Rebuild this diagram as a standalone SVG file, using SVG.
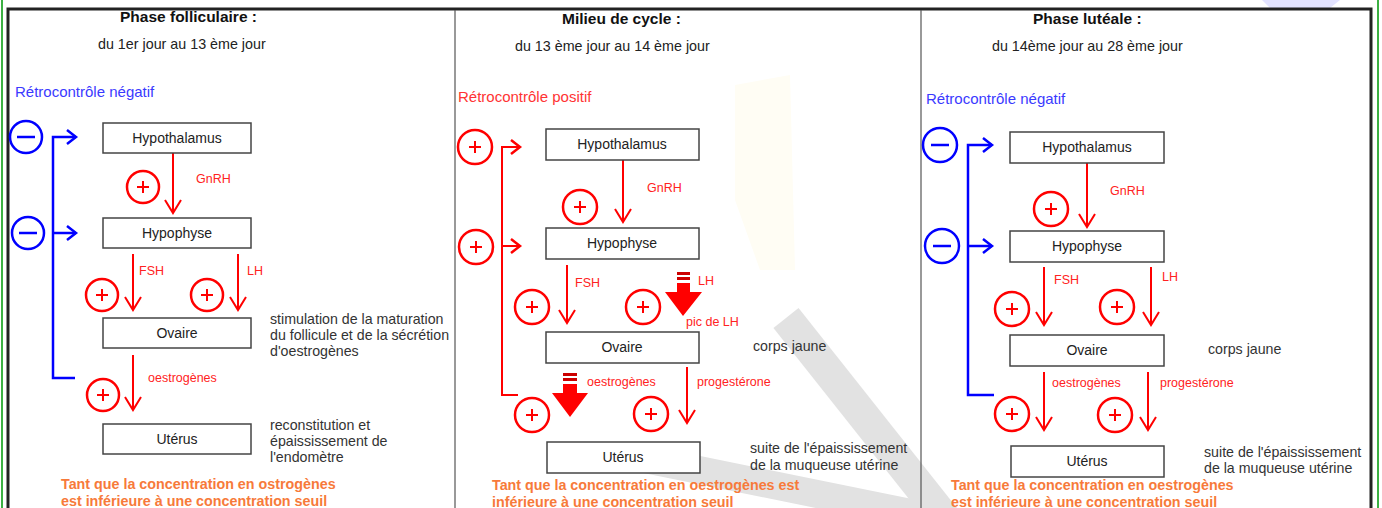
<svg xmlns="http://www.w3.org/2000/svg" width="1382" height="508" viewBox="0 0 1382 508">
<defs>
<style>
text{font-family:"Liberation Sans",Arial,sans-serif;}
.ttl{font-size:15.5px;font-weight:bold;fill:#111;}
.sub{font-size:14.3px;fill:#222;}
.box{fill:#fff;stroke:#444;stroke-width:1.5;}
.bt{font-size:14px;fill:#222;text-anchor:middle;}
.desc{font-size:14.2px;fill:#333;}
.lab{font-size:12.5px;fill:#f22;}
.org{font-size:14.3px;font-weight:bold;fill:#f77a3a;}
.rl{stroke:#f00;stroke-width:2;fill:none;}
.bl{stroke:#00f;stroke-width:2.5;fill:none;}
.pc{stroke:#f00;stroke-width:2.5;fill:#fff;}
.mc{stroke:#00f;stroke-width:2.5;fill:#fff;}
.sg{stroke:#f00;stroke-width:2;}
.sgb{stroke:#00f;stroke-width:2.5;}
.blk{fill:#f00;}
.bar{fill:#c00;}
</style>
<marker id="ar" markerUnits="userSpaceOnUse" markerWidth="20" markerHeight="20" viewBox="-10 -14 20 16" refX="0" refY="0" orient="0">
<path d="M-8,-13 L0,0 L8,-13" fill="none" stroke="#f00" stroke-width="2"/>
</marker>
<marker id="ab" markerUnits="userSpaceOnUse" markerWidth="20" markerHeight="20" viewBox="-14 -10 16 20" refX="0" refY="0" orient="0">
<path d="M-9,-7 L0,0 L-9,7" fill="none" stroke="#00f" stroke-width="2.5"/>
</marker>
<marker id="arr" markerUnits="userSpaceOnUse" markerWidth="20" markerHeight="20" viewBox="-14 -10 16 20" refX="0" refY="0" orient="0">
<path d="M-9,-7 L0,0 L-9,7" fill="none" stroke="#f00" stroke-width="2.5"/>
</marker>
</defs>
<rect width="1382" height="508" fill="#fff"/>
<g id="background">
<polygon points="1262,0 1340,0 1330,8 1270,8" fill="#dcdcff" opacity="0.8"/>
<polygon points="735,85 790,75 795,270 760,270 735,200" fill="#fffdf4"/>
<path d="M786,318 L950,525" stroke="#e2e2e2" stroke-width="32" fill="none"/>
<path d="M640,458 L955,522" stroke="#e2e2e2" stroke-width="28" fill="none"/>
<line x1="2" y1="0" x2="2" y2="508" stroke="#3cb043" stroke-width="2"/>
<line x1="1378" y1="0" x2="1378" y2="508" stroke="#3cb043" stroke-width="2"/>
<path d="M8,512 L8,9 L1371,9 L1371,512" fill="none" stroke="#222" stroke-width="3"/>
<line x1="455" y1="10" x2="455" y2="508" stroke="#555" stroke-width="1.2"/>
<line x1="921" y1="10" x2="921" y2="508" stroke="#555" stroke-width="1.2"/>
</g>

<g id="col1-header">
<text class="ttl" x="120" y="22">Phase folliculaire :</text>
<text class="sub" x="98" y="49">du 1er  jour au 13 ème jour</text>
<text x="15" y="97" font-size="15" fill="#3a3aff">Rétrocontrôle négatif</text>
</g>
<g id="col2-header">
<text class="ttl" x="562" y="24">Milieu de cycle :</text>
<text class="sub" x="515" y="51">du 13 ème jour au 14 ème jour</text>
<text x="458" y="102" font-size="15" fill="#f33">Rétrocontrôle positif</text>
</g>
<g id="col3-header">
<text class="ttl" x="1033" y="24">Phase lutéale :</text>
<text class="sub" x="992" y="51">du 14ème jour au 28 ème jour</text>
<text x="926" y="104" font-size="15" fill="#3a3aff">Rétrocontrôle négatif</text>
</g>

<g id="connectors">
<path class="bl" d="M75,378 L53,378 L53,137 L76,137" marker-end="url(#ab)"/>
<line class="bl" x1="53" y1="233" x2="76" y2="233" marker-end="url(#ab)"/>
<line class="rl" x1="173" y1="153" x2="173" y2="213" marker-end="url(#ar)"/>
<line class="rl" x1="133" y1="254" x2="133" y2="310" marker-end="url(#ar)"/>
<line class="rl" x1="238" y1="254" x2="238" y2="310" marker-end="url(#ar)"/>
<line class="rl" x1="133" y1="355" x2="133" y2="410" marker-end="url(#ar)"/>
<path class="rl" stroke-width="2.5" d="M518,395 L502,395 L502,147 L520,147" marker-end="url(#arr)"/>
<line class="rl" stroke-width="2.5" x1="502" y1="246" x2="520" y2="246" marker-end="url(#arr)"/>
<line class="rl" x1="623" y1="160" x2="623" y2="222" marker-end="url(#ar)"/>
<line class="rl" x1="567" y1="265" x2="567" y2="323" marker-end="url(#ar)"/>
<rect class="bar" x="677" y="272" width="13" height="3"/>
<rect class="bar" x="677" y="277" width="13" height="3"/>
<polygon class="blk" points="677,283 690,283 690,292 702,292 683,316 665,292 677,292"/>
<rect class="bar" x="563" y="373" width="14" height="3"/>
<rect class="bar" x="563" y="378" width="14" height="3"/>
<polygon class="blk" points="563,384 577,384 577,393 588,393 570,417 552,393 563,393"/>
<line class="rl" x1="687" y1="367" x2="687" y2="423" marker-end="url(#ar)"/>
<path class="bl" d="M994,395 L968,395 L968,145 L992,145" marker-end="url(#ab)"/>
<line class="bl" x1="968" y1="246" x2="992" y2="246" marker-end="url(#ab)"/>
<line class="rl" x1="1087" y1="163" x2="1087" y2="227" marker-end="url(#ar)"/>
<line class="rl" x1="1044" y1="267" x2="1044" y2="325" marker-end="url(#ar)"/>
<line class="rl" x1="1151" y1="267" x2="1151" y2="325" marker-end="url(#ar)"/>
<line class="rl" x1="1044" y1="372" x2="1044" y2="430" marker-end="url(#ar)"/>
<line class="rl" x1="1148" y1="372" x2="1148" y2="430" marker-end="url(#ar)"/>
</g>

<g id="labels">
<text class="lab" x="196" y="183">GnRH</text>
<text class="lab" x="139" y="275">FSH</text>
<text class="lab" x="247" y="275">LH</text>
<text class="lab" x="148" y="382">oestrogènes</text>
<text class="lab" x="647" y="192">GnRH</text>
<text class="lab" x="575" y="287">FSH</text>
<text class="lab" x="698" y="285">LH</text>
<text class="lab" x="686" y="326">pic de LH</text>
<text class="lab" x="587" y="386">oestrogènes</text>
<text class="lab" x="697" y="386">progestérone</text>
<text class="lab" x="1110" y="195">GnRH</text>
<text class="lab" x="1054" y="284">FSH</text>
<text class="lab" x="1162" y="281">LH</text>
<text class="lab" x="1052" y="387">oestrogènes</text>
<text class="lab" x="1160" y="387">progestérone</text>
</g>

<g id="signs">
<g id="c1-minus1"><circle class="mc" cx="26" cy="137" r="16"/><line class="sgb" x1="17" y1="137" x2="35" y2="137"/></g>
<g id="c1-minus2"><circle class="mc" cx="28" cy="233" r="16"/><line class="sgb" x1="19" y1="233" x2="37" y2="233"/></g>
<g id="c1-p1"><circle class="pc" cx="143" cy="187" r="16"/><path class="sg" d="M137,187 h12 M143,181 v12"/></g>
<g id="c1-p2"><circle class="pc" cx="102" cy="295" r="16"/><path class="sg" d="M96,295 h12 M102,289 v12"/></g>
<g id="c1-p3"><circle class="pc" cx="207" cy="295" r="16"/><path class="sg" d="M201,295 h12 M207,289 v12"/></g>
<g id="c1-p4"><circle class="pc" cx="103" cy="395" r="16"/><path class="sg" d="M97,395 h12 M103,389 v12"/></g>
<g id="c2-p0"><circle class="pc" cx="475" cy="147" r="17"/><path class="sg" d="M469,147 h12 M475,141 v12"/></g>
<g id="c2-p00"><circle class="pc" cx="476" cy="247" r="17"/><path class="sg" d="M470,247 h12 M476,241 v12"/></g>
<g id="c2-p1"><circle class="pc" cx="580" cy="207" r="17"/><path class="sg" d="M574,207 h12 M580,201 v12"/></g>
<g id="c2-p2"><circle class="pc" cx="532" cy="307" r="17"/><path class="sg" d="M526,307 h12 M532,301 v12"/></g>
<g id="c2-p3"><circle class="pc" cx="643" cy="307" r="17"/><path class="sg" d="M637,307 h12 M643,301 v12"/></g>
<g id="c2-p4"><circle class="pc" cx="532" cy="415" r="17"/><path class="sg" d="M526,415 h12 M532,409 v12"/></g>
<g id="c2-p5"><circle class="pc" cx="651" cy="414" r="17"/><path class="sg" d="M645,414 h12 M651,408 v12"/></g>
<g id="c3-minus1"><circle class="mc" cx="940" cy="145" r="17"/><line class="sgb" x1="931" y1="145" x2="949" y2="145"/></g>
<g id="c3-minus2"><circle class="mc" cx="942" cy="246" r="17"/><line class="sgb" x1="933" y1="246" x2="951" y2="246"/></g>
<g id="c3-p1"><circle class="pc" cx="1051" cy="209" r="17"/><path class="sg" d="M1045,209 h12 M1051,203 v12"/></g>
<g id="c3-p2"><circle class="pc" cx="1012" cy="309" r="17"/><path class="sg" d="M1006,309 h12 M1012,303 v12"/></g>
<g id="c3-p3"><circle class="pc" cx="1117" cy="307" r="17"/><path class="sg" d="M1111,307 h12 M1117,301 v12"/></g>
<g id="c3-p4"><circle class="pc" cx="1012" cy="414" r="17"/><path class="sg" d="M1006,414 h12 M1012,408 v12"/></g>
<g id="c3-p5"><circle class="pc" cx="1115" cy="415" r="17"/><path class="sg" d="M1109,415 h12 M1115,409 v12"/></g>
</g>

<g id="c1-hypothalamus"><rect class="box" x="103" y="123" width="148" height="30"/><text class="bt" x="177" y="143">Hypothalamus</text></g>
<g id="c1-hypophyse"><rect class="box" x="103" y="218" width="148" height="30"/><text class="bt" x="177" y="238">Hypophyse</text></g>
<g id="c1-ovaire"><rect class="box" x="103" y="318" width="148" height="30"/><text class="bt" x="177" y="338">Ovaire</text></g>
<g id="c1-uterus"><rect class="box" x="103" y="424" width="148" height="30"/><text class="bt" x="177" y="444">Utérus</text></g>
<g id="c2-hypothalamus"><rect class="box" x="546" y="129" width="153" height="31"/><text class="bt" x="622" y="149">Hypothalamus</text></g>
<g id="c2-hypophyse"><rect class="box" x="546" y="228" width="153" height="31"/><text class="bt" x="622" y="248">Hypophyse</text></g>
<g id="c2-ovaire"><rect class="box" x="546" y="332" width="153" height="31"/><text class="bt" x="622" y="352">Ovaire</text></g>
<g id="c2-uterus"><rect class="box" x="547" y="442" width="153" height="31"/><text class="bt" x="623" y="462">Utérus</text></g>
<g id="c3-hypothalamus"><rect class="box" x="1010" y="132" width="154" height="31"/><text class="bt" x="1087" y="152">Hypothalamus</text></g>
<g id="c3-hypophyse"><rect class="box" x="1010" y="231" width="154" height="31"/><text class="bt" x="1087" y="251">Hypophyse</text></g>
<g id="c3-ovaire"><rect class="box" x="1010" y="335" width="154" height="31"/><text class="bt" x="1087" y="355">Ovaire</text></g>
<g id="c3-uterus"><rect class="box" x="1011" y="446" width="153" height="31"/><text class="bt" x="1087" y="466">Utérus</text></g>

<g id="descriptions">
<text class="desc" x="270" y="324">stimulation de la maturation</text>
<text class="desc" x="270" y="340">du follicule et de la sécrétion</text>
<text class="desc" x="270" y="356">d'oestrogènes</text>
<text class="desc" x="270" y="430">reconstitution et</text>
<text class="desc" x="270" y="446">épaississement de</text>
<text class="desc" x="270" y="462">l'endomètre</text>
<text class="desc" x="753" y="351">corps jaune</text>
<text class="desc" x="750" y="453">suite de l'épaississement</text>
<text class="desc" x="750" y="470">de la muqueuse utérine</text>
<text class="desc" x="1208" y="354">corps jaune</text>
<text class="desc" x="1204" y="457">suite de l'épaississement</text>
<text class="desc" x="1204" y="473">de la muqueuse utérine</text>
</g>

<g id="notes">
<text class="org" x="61" y="489">Tant que la concentration en ostrogènes</text>
<text class="org" x="61" y="506">est inférieure à une concentration seuil</text>
<text class="org" x="492" y="490">Tant que la concentration en oestrogènes est</text>
<text class="org" x="492" y="507">inférieure à une concentration seuil</text>
<text class="org" x="951" y="490">Tant que la concentration en oestrogènes</text>
<text class="org" x="951" y="507">est inférieure à une concentration seuil</text>
</g>
</svg>
